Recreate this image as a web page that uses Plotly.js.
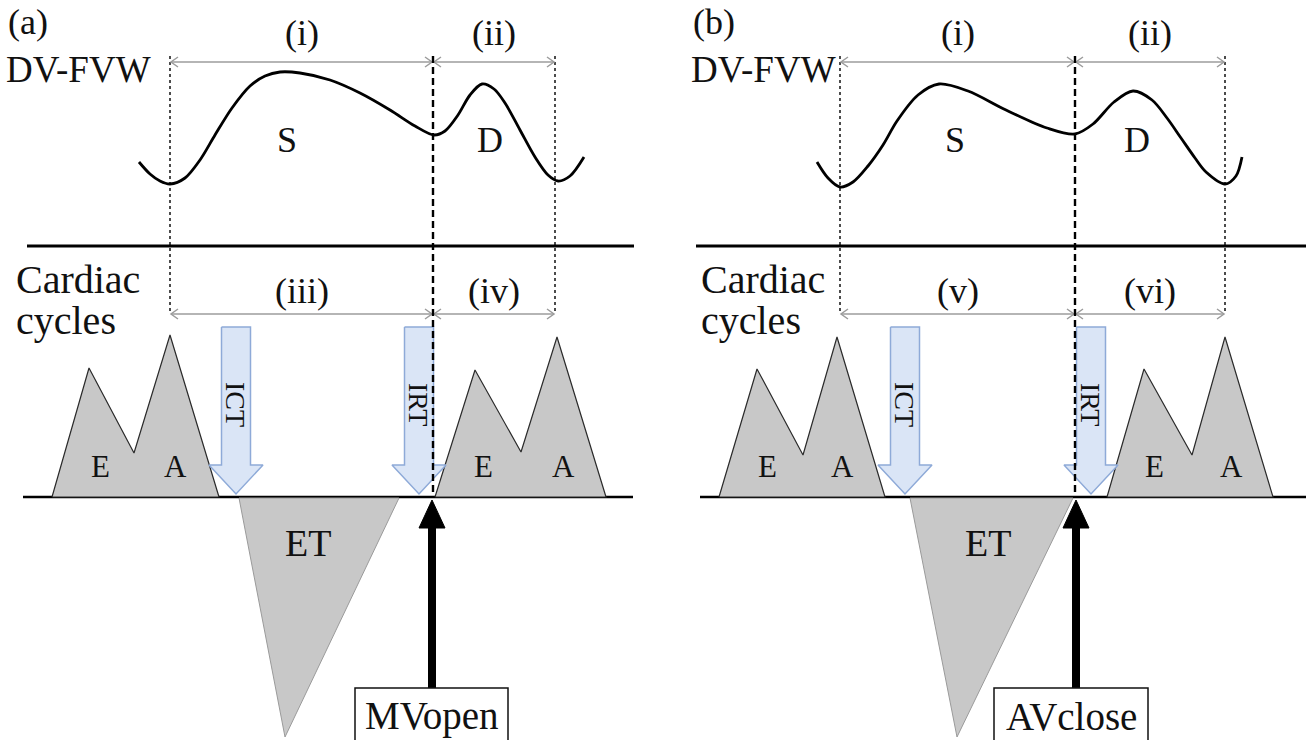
<!DOCTYPE html>
<html><head><meta charset="utf-8">
<script src="https://cdn.plot.ly/plotly-3.0.1.min.js"></script>
<style>html,body{margin:0;padding:0;background:#fff}#chart{width:1306px;height:740px}</style>
</head><body><div id="chart"></div>
<script>
// ---------- diagram data (pixel-space coordinates of the schematic) ----------
// DV-FVW waveforms
const waveA_x = [139,150,160,170,185,200,215,232,250,265,280,300,330,360,390,415,434,445,458,470,482,494,505,520,535,548,558,570,584];
const waveA_y = [162,174,181,184,178,160,135,108,86,76,72,73,80,93,110,126,135,131,115,95,84,89,103,130,157,175,181,176,157];
const waveB_x = [817,828,840,853,868,883,897,918,939,968,1006,1047,1075,1093,1114,1133,1152,1167,1181,1195,1206,1225,1236,1242];
const waveB_y = [162,178,187,182,166,145,121,95,84,91,110,128,134,124,102,91,100,118,138,158,172,184,176,157];

// E/A mitral inflow shapes (base-left, E peak, valley, A peak, base-right)
const eaA1_x = [52, 89, 134, 170, 219];   const eaA1_y = [497, 368, 453, 335, 497];
const eaA2_x = [435, 475, 521, 557, 606]; const eaA2_y = [497, 370, 452, 337, 497];
const eaB1_x = [719, 757, 803, 837, 885]; const eaB1_y = [497, 369, 455, 337, 497];
const eaB2_x = [1107,1144,1192,1225,1273];const eaB2_y = [497, 369, 455, 337, 497];
const eaLabelX = [100, 175, 483, 563, 767, 842, 1154, 1231];
const eaLabelText = ['E','A','E','A','E','A','E','A'];

// Ejection time triangles
const etA_x = [239, 399, 285]; const etA_y = [498, 498, 737];
const etB_x = [910, 1073, 957]; const etB_y = [498, 498, 737];
const etLabelX = [308, 988];

// ICT / IRT block arrows (centre x)
const blockCx = [236, 419, 905, 1091];
const blockText = ['ICT','IRT','ICT','IRT'];

// Interval arrows
const intText  = ['(i)','(ii)','(iii)','(iv)','(i)','(ii)','(v)','(vi)'];
const intStart = [170, 433, 170, 433, 840, 1075, 840, 1075];
const intEnd   = [433, 555, 433, 555, 1075, 1225, 1075, 1225];
const intY     = [62, 62, 314, 314, 62, 62, 314, 314];
const intLabY  = [33, 33, 291, 291, 33, 33, 291, 291];

// dotted guides and dashed valve-event lines
const dottedX = [170, 555, 840, 1225];
const dashedX = [433, 1075];

// valve event markers
const valveX = [432, 1076];
const valveText = ['MVopen', 'AVclose'];
const valveBoxL = [355, 994];
const valveBoxR = [508, 1148];

// panel texts
const panelTag = ['(a)', '(b)'];
const panelLeft = [6, 691];
const panelLineL = [27, 696];
const panelLineR = [634, 1306];
const baseL = [23, 700];
const baseR = [633, 1306];
const sdX = [[287, 490], [955, 1137]];

// ---------- build traces ----------
const FONT = '"Liberation Serif", "Times New Roman", serif';
const traces = [];
const annotations = [];
const shapes = [];
const skip = {hoverinfo: 'skip', showlegend: false};

function line(xs, ys, color, width, dash, shape) {
  traces.push(Object.assign({type: 'scatter', mode: 'lines', x: xs, y: ys,
    line: {color: color, width: width, dash: dash || 'solid', shape: shape || 'linear', smoothing: 0.9}}, skip));
}
function poly(xs, ys, fill, lc, lw) {
  traces.push(Object.assign({type: 'scatter', mode: 'lines', x: xs.concat([xs[0]]), y: ys.concat([ys[0]]),
    fill: 'toself', fillcolor: fill, line: {color: lc, width: lw}}, skip));
}
function text(x, y, t, size, opts) {
  annotations.push(Object.assign({x: x, y: y, xref: 'x', yref: 'y', text: t, showarrow: false,
    font: {family: FONT, size: size, color: '#111'}, xanchor: 'center', yanchor: 'middle'}, opts || {}));
}

// horizontal separator lines and baselines
for (let p = 0; p < 2; p++) {
  line([panelLineL[p], panelLineR[p]], [246, 246], '#000', 3);
  line([baseL[p], baseR[p]], [497, 497], '#000', 2.6);
}

// E/A shapes
[[eaA1_x, eaA1_y], [eaA2_x, eaA2_y], [eaB1_x, eaB1_y], [eaB2_x, eaB2_y]].forEach(s => poly(s[0], s[1], '#c8c8c8', '#2a2a2a', 1.2));
// ET triangles
[[etA_x, etA_y], [etB_x, etB_y]].forEach(s => poly(s[0], s[1], '#c8c8c8', '#9a9a9a', 1));

// ICT/IRT block arrows
blockCx.forEach((cx, i) => {
  const sh = 14.5, hh = 27, top = 327, ht = 465, tip = 494;
  poly([cx - sh, cx + sh, cx + sh, cx + hh, cx, cx - hh, cx - sh],
       [top, top, ht, ht, tip, ht, ht], '#dae5f6', '#8eaad8', 1.5);
  text(cx, 404, blockText[i], 28, {textangle: 90});
});

// dotted guides
dottedX.forEach(x => line([x, x], [56, 314], '#000', 1.4, 'dot'));

// waveforms
line(waveA_x, waveA_y, '#000', 2.8, 'solid', 'spline');
line(waveB_x, waveB_y, '#000', 2.8, 'solid', 'spline');

// interval arrows
intStart.forEach((x1, i) => {
  const x2 = intEnd[i], y = intY[i], c = '#9c9c9c';
  line([x1 + 1, x2 - 1], [y, y], c, 1.5);
  line([x1 + 8, x1 + 1, x1 + 8], [y - 5, y, y + 5], c, 1.5);
  line([x2 - 8, x2 - 1, x2 - 8], [y - 5, y, y + 5], c, 1.5);
  text((x1 + x2) / 2, intLabY[i], intText[i], 36);
});

// dashed valve-event lines
dashedX.forEach(x => line([x, x], [56, 497], '#000', 2.4, '7px,4px'));

// valve event arrows and boxes
valveX.forEach((x, i) => {
  line([x, x], [525, 689], '#000', 8);
  poly([x - 13, x + 13, x], [528, 528, 500], '#000', '#000', 1);
  shapes.push({type: 'rect', xref: 'x', yref: 'y', x0: valveBoxL[i], x1: valveBoxR[i], y0: 688, y1: 748,
    line: {color: '#111', width: 1.5}, fillcolor: '#fff', layer: 'above'});
  annotations.push({x: (valveBoxL[i] + valveBoxR[i]) / 2, y: 716, xref: 'x', yref: 'y', text: valveText[i], showarrow: false,
    font: {family: FONT, size: 39, color: '#111'}, xanchor: 'center', yanchor: 'middle'});
});

// labels
for (let p = 0; p < 2; p++) {
  text(panelLeft[p], 22, panelTag[p], 36, {xanchor: 'left'});
  text(panelLeft[p] - 2, 69, 'DV-FVW', 37, {xanchor: 'left'});
  text(panelLeft[p] + 8, 279, 'Cardiac', 40, {xanchor: 'left'});
  text(panelLeft[p] + 8, 320, 'cycles', 40, {xanchor: 'left'});
  text(sdX[p][0], 140, 'S', 36);
  text(sdX[p][1], 140, 'D', 36);
  text(etLabelX[p], 543, 'ET', 38);
}
eaLabelX.forEach((x, i) => text(x, 466, eaLabelText[i], 31));

const layout = {
  width: 1306, height: 740,
  margin: {l: 0, r: 0, t: 0, b: 0},
  paper_bgcolor: '#fff', plot_bgcolor: '#fff',
  xaxis: {range: [0, 1306], visible: false, fixedrange: true},
  yaxis: {range: [740, 0], visible: false, fixedrange: true},
  showlegend: false,
  annotations: annotations,
  shapes: shapes
};
Plotly.newPlot('chart', traces, layout, {staticPlot: true, displayModeBar: false});
</script>
</body></html>
